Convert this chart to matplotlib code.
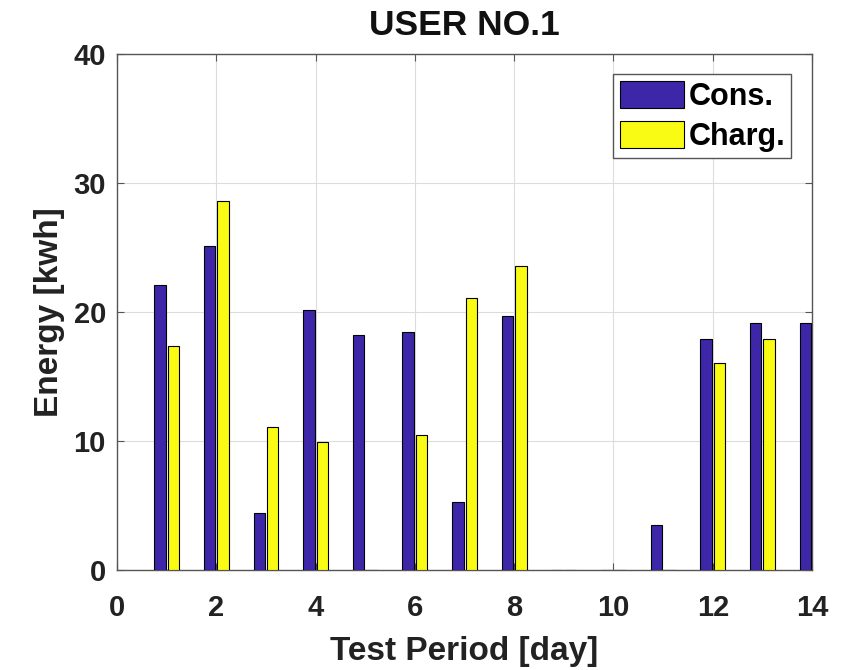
import numpy as np
import matplotlib.pyplot as plt

# Werte pro Tag
days = np.arange(1, 15)
cons = [22.1, 25.1, 4.4, 20.2, 18.2, 18.5, 5.3, 19.7, 0.0, 0.0, 3.5, 17.9, 19.2, 19.2]
charg = [17.4, 28.6, 11.1, 9.9, 0.0, 10.5, 21.1, 23.6, 0.0, 0.0, 0.0, 16.1, 17.9, 0.0]

fnt = 'Liberation Sans'

fig = plt.figure(figsize=(8.48, 6.7), dpi=100)
ax = fig.add_axes([0.138, 0.149, 0.8196, 0.770])

w = 0.23
off = 0.135
ax.bar(days - off, cons, w, color='#3E26A8', edgecolor='black', linewidth=0.8, label='Cons.', zorder=3)
ax.bar(days + off, charg, w, color='#F9FB15', edgecolor='black', linewidth=0.8, label='Charg.', zorder=3)

ax.set_xlim(0, 14)
ax.set_ylim(0, 40)
ax.set_xticks(range(0, 15, 2))
ax.set_yticks(range(0, 41, 10))
ax.grid(True, color='#dcdcdc', linewidth=0.8, zorder=0)
ax.tick_params(direction='in', top=True, right=True, labelsize=21, length=5, color='#555555')
ax.tick_params(axis='x', pad=17)
ax.tick_params(axis='y', pad=8)
for lbl in ax.get_xticklabels() + ax.get_yticklabels():
    lbl.set_fontweight('bold')
    lbl.set_family(fnt)
    lbl.set_color('#222222')
for s in ax.spines.values():
    s.set_color('#555555')
    s.set_linewidth(1.0)

ax.set_xlabel('Test Period [day]', fontsize=24, fontweight='bold', family=fnt, labelpad=10, color='#222222')
ax.set_ylabel('Energy [kwh]', fontsize=24, fontweight='bold', family=fnt, labelpad=6, color='#222222')
ax.set_title('USER NO.1', fontsize=25.5, fontweight='bold', family=fnt, pad=14, color='#111111')

leg = ax.legend(loc='upper right', bbox_to_anchor=(0.97, 0.961), fancybox=False, framealpha=1,
                edgecolor='#555555', handlelength=2.1, handleheight=1.0, handletextpad=0.15,
                borderpad=0.2, labelspacing=0.3, borderaxespad=0,
                prop={'size': 22, 'weight': 'bold', 'family': fnt})
leg.get_frame().set_linewidth(1.0)

fig.savefig('out.png')
